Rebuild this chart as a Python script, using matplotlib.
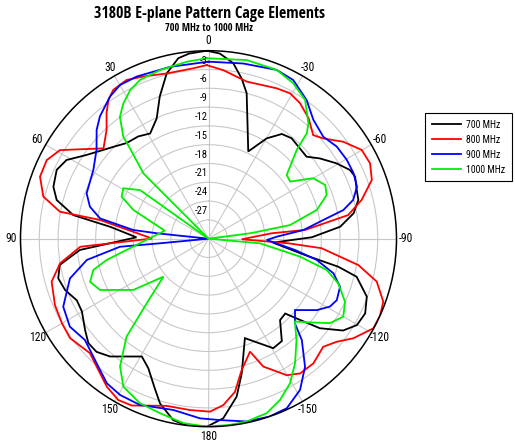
import os
import numpy as np
import matplotlib
matplotlib.use("Agg")
import matplotlib.pyplot as plt
from matplotlib.lines import Line2D
from matplotlib import font_manager as fm

title = "3180B E-plane Pattern Cage Elements"
subtitle = "700 MHz to 1000 MHz"
series_names = ["700 MHz", "800 MHz", "900 MHz", "1000 MHz"]
series_colors = ["#000000", "#ff0000", "#0000ff", "#00ee00"]
theta_tick_deg = [0, 30, 60, 90, 120, 150, 180, 210, 240, 270, 300, 330]
theta_tick_labels = ["0", "30", "60", "90", "120", "150", "180", "-150", "-120", "-90", "-60", "-30"]
r_ticks = [-27, -24, -21, -18, -15, -12, -9, -6, -3]

theta_700 = [0.5, 6, 9.5, 14.2, 18.9, 23.3, 29.0, 34.5, 40.6, 46.0, 55.5, 61.0, 65.6, 71.5, 75.7,
             80.1, 83.1, 88.9, 95.0, 100.0, 104.8, 109.7, 115.1, 119.9, 126.5, 131.0, 135.3, 140.1,
             150.5, 155.1, 160.3, 163.6, 169.0, 173.4, 179.5, -175.3, -169.9, -166.1, -159.9, -149.4,
             -144.4, -138.7, -134.3, -131.6, -128.8, -124.3, -120.2, -115.5, -110.1, -104.4, -102.2,
             -99.6, -93.5, -89.2, -84.8, -80.1, -75.5, -71.8, -67.1, -64.1, -59.5, -54.2, -50.1,
             -45.3, -39.6, -35.0, -30.1, -24.5, -14.7, -11.7, -8.0, -3.5, 0.5]
r_700 = [0, -0.3, -0.8, -2.8, -6.0, -9.1, -10.8, -10.2, -9.9, -8.9, -6.4, -4.1, -3.4, -3.9, -5.0,
         -8.1, -14.2, -18.5, -9.4, -5.9, -5.2, -5.7, -6.8, -6.7, -5.5, -4.6, -4.6, -5.5,
         -8.4, -7.2, -4.6, -2.6, -0.5, 0, 0, -1.25, -4.4, -7.9, -13.1, -9.7,
         -9.9, -12.7, -12.9, -10.5, -7.2, -4.0, -2.6, -2.3, -3.1, -5.6, -8.8,
         -14.4, -19.7, -13.5, -8.9, -6.5, -5.3, -5.1, -4.6, -4.9, -6.3, -8.1, -9.6,
         -9.5, -9.2, -9.6, -11.5, -14.7, -6.0, -3.9, -1.7, -0.4, 0]

theta_800 = [0.6, 5.1, 14.2, 21.9, 27.3, 32.6, 35.8, 39.1, 43.1, 49.3, 55.2, 59.2, 64.1, 69.8, 75.7,
             79.7, 80.2, 89.8, 93.6, 99.4, 105.3, 113.4, 120.0, 125.7, 134.0, 140.0, 145.5, 150.8,
             155.3, 165.9, 173.8, -179.5, -174.9, -170.2, -165.8, -159.8, -156.8, -150.2, -145.8,
             -139.9, -133.3, -128.8, -124.5, -118.5, -114.2, -109.8, -104.3, -100.0, -94.8, -93.3,
             -91.0, -85.1, -84.8, -80.4, -75.8, -70.2, -65.0, -59.9, -54.3, -48.8, -45.3, -39.7,
             -34.0, -29.3, -24.4, -13.7, -5.0, 0.6]
r_800 = [-2.3, -2.7, -2.8, -2.1, -1.5, -1.8, -2.7, -4.2, -6.2, -7.9, -5.0, -2.4, -1.3, -1.35, -2.8,
         -5.9, -12.4, -21.0, -9.5, -6.0, -4.05, -3.3, -3.0, -2.8, -3.7, -2.65, -1.35, -0.5,
         -0.7, -2.5, -2.5, -2.4, -3.35, -5.2, -8.4, -10.8, -7.8, -4.9, -4.0,
         -4.0, -4.85, -3.75, -1.95, -0.05, 0, -0.35, -2.3, -5.7, -11.9, -17.25,
         -24.7, -19.9, -14.5, -7.4, -4.8, -2.3, -1.55, -1.75, -3.5, -5.7, -6.5, -5.0,
         -3.9, -3.4, -3.65, -4.2, -3.0, -2.3]

theta_900 = [0, 12.6, 23.9, 29.9, 34.7, 41.6, 45.8, 51.6, 59.2, 69.6, 74.9, 79.4, 83.4, 84.0, 90,
             95.4, 95.2, 99.9, 106.0, 115.1, 122.4, 129.4, 139.3, 144.9, 150.5, 157.6, 168.4, 177.3,
             -176.4, -168.2, -161.1, -155.2, -148.8, -143.0, -137.4, -134.4, -129.5, -123.4, -119.2,
             -115.6, -110.1, -105.5, -101.1, -97.4, -91.3, -88.3, -84.8, -80.7, -78.0, -75.0, -70.7,
             -65.7, -60.3, -54.3, -48.4, -41.4, -35.3, -28.1, -22.0, -11.2, 0]
r_900 = [-1.75, -1.9, -1.7, -1.7, -2.4, -3.9, -5.1, -7.2, -8.6, -9.25, -10.4, -12.4, -17.9, -21.7, -30,
         -22.2, -15.8, -10.3, -7.0, -4.4, -3.8, -4.5, -3.05, -1.8, -1.35, -1.3, -2.1, -1.3,
         -1.0, -0.2, 0, -0.2, -1.8, -4.4, -8.0, -10.7, -12.1, -9.3, -7.8,
         -7.3, -7.65, -9.3, -12.4, -16.1, -20.7, -19.1, -14.8, -11.4, -8.0, -6.1, -4.9,
         -4.6, -4.6, -4.8, -5.5, -4.7, -2.9, -1.3, -0.95, -1.5, -1.75]

theta_1000 = [0.6, 7.0, 16.0, 23.3, 27.8, 32.2, 36.0, 39.9, 41.0, 44.9, 60, 54.6, 59.4, 64.2, 69.1,
              79.6, 101.8, 105.2, 110.0, 115.3, 124.3, 130.1, 136.3, 140.1, 145.3, 150.1, 157.4,
              164.5, 172.2, 179.5, -173.4, -168.2, -161.6, -156.1, -150.6, -145.2, -139.0, -133.8,
              -128.7, -124.8, -120.1, -114.8, -109.0, -104.8, -101.1, -95.1, -90, -82.6, -80.5,
              -75.1, -69.7, -65.3, -60.0, -55.0, -50.8, -44.8, -43.0, -40.9, -34.8, -28.6, -22.0,
              -12.1, 0.6]
r_1000 = [-1.2, -1.55, -2.0, -2.4, -3.2, -4.5, -5.95, -8.8, -10.9, -15.3, -30, -16.6, -14.2, -14.6, -17.2,
          -22.9, -13.4, -10.95, -9.9, -10.85, -15.5, -20.6, -15.7, -9.6, -5.2, -2.75, -1.55,
          -1.1, -0.3, 0, -0.1, -0.2, -0.65, -1.85, -3.5, -5.8, -8.6, -10.9,
          -8.6, -6.4, -5.15, -6.0, -8.1, -10.5, -15.1, -21.75, -30, -23.3, -16.8,
          -12.1, -9.9, -9.5, -10.7, -14.1, -13.9, -10.0, -7.0, -5.65, -3.0, -1.75, -0.95,
          -0.85, -1.2]

series = [(theta_700, r_700), (theta_800, r_800), (theta_900, r_900), (theta_1000, r_1000)]


# ---- pick a narrow / condensed sans font (Arial-Narrow-like) if one is installed ----
WIDTH_WORDS = [("extracondensed", 3), ("ultracondensed", 4), ("extra-condensed", 3),
               ("semicondensed", 1), ("semi-condensed", 1), ("condensed", 0), ("narrow", 0), ("cond", 0)]
WEIGHT_WORDS = ["thin", "extralight", "light", "medium", "semibold", "demibold", "extrabold",
                "black", "heavy", "bold", "italic", "oblique"]


def _classify(path):
    b = os.path.splitext(os.path.basename(path))[0].lower().replace(" ", "").replace("_", "")
    wrank = None
    rest = b
    for w, rk in WIDTH_WORDS:
        if w in rest:
            wrank = rk
            rest = rest.replace(w, "")
            break
    if wrank is None:
        return None
    weights = [w for w in WEIGHT_WORDS if w in rest]
    if "semibold" in weights or "extrabold" in weights or "demibold" in weights:
        weights = [w for w in weights if w != "bold"]
    return wrank, weights


prefs = ["liberation sans narrow", "arial narrow", "liberation sans", "noto sans", "open sans",
         "roboto", "dejavu sans", "lato", "inter"]


def _pick(want_bold):
    best = None
    for f in fm.fontManager.ttflist:
        nm = f.name.lower()
        if any(s in nm for s in ("mono", "cjk", "math")) or ("serif" in nm and "sans" not in nm):
            continue
        c = _classify(f.fname)
        if c is None:
            continue
        wrank, weights = c
        if any(w in weights for w in ("italic", "oblique")):
            continue
        if want_bold:
            if weights != ["bold"]:
                continue
        else:
            if weights not in ([], ["regular"]):
                continue
        pr = next((i for i, p in enumerate(prefs) if nm.startswith(p)), len(prefs))
        key = (wrank, pr)
        if best is None or key < best[0]:
            best = (key, f)
    return None if best is None else best[1]


f_reg = _pick(False)
f_bold = _pick(True)
fp_reg = fm.FontProperties(fname=f_reg.fname) if f_reg else fm.FontProperties(family="Liberation Sans")
fp_bold = fm.FontProperties(fname=f_bold.fname) if f_bold else fm.FontProperties(family="Liberation Sans", weight="bold")

W, H = 515, 446
fig = plt.figure(figsize=(W / 100, H / 100), dpi=100)
renderer = fig.canvas.get_renderer()


def fit_size(text, fp, target_px, max_size):
    t = fig.text(0, 0, text, fontproperties=fp, fontsize=10)
    w = t.get_window_extent(renderer).width
    t.remove()
    return min(max_size, 10 * target_px / w)


size_title = fit_size(title, fp_bold, 232, 11.5)
size_sub = fit_size(subtitle, fp_bold, 88, 7.5)
size_theta = fit_size("-150", fp_reg, 20, 9.0)
size_r = fit_size("-27", fp_reg, 13, 8.4)
size_leg = fit_size("1000 MHz", fp_reg, 39, 8.0)

cx, cy, R = 208.5, 238.7, 188.0
ax = fig.add_axes([(cx - R) / W, (H - cy - R) / H, 2 * R / W, 2 * R / H], projection='polar')
ax.set_theta_zero_location('N')
ax.set_theta_direction(1)

for (th, rr), col in zip(series, series_colors):
    ax.plot(np.deg2rad(th), rr, color=col, lw=1.3, solid_joinstyle='miter')

ax.set_rlim(-30, 0)
ax.set_yticks(r_ticks)
ax.set_yticklabels([])
ax.set_xticks(np.deg2rad(theta_tick_deg))
ax.set_xticklabels(theta_tick_labels)
for lab in ax.get_xticklabels():
    lab.set_fontproperties(fp_reg)
    lab.set_fontsize(size_theta)
ax.tick_params(axis='x', pad=-3.5)
ax.grid(True, color='#c8c8c8', lw=0.8)
ax.spines['polar'].set_color('black')
ax.spines['polar'].set_linewidth(1.1)

for v in r_ticks:
    ax.annotate(str(v), xy=(0, v), xytext=(-0.8, 2.8), textcoords='offset points',
                ha='right', va='bottom', fontproperties=fp_reg, fontsize=size_r)

fig.text(209 / W, 1 - 13.5 / H, title, ha='center', va='center', fontproperties=fp_bold, fontsize=size_title)
fig.text(209 / W, 1 - 28.5 / H, subtitle, ha='center', va='center', fontproperties=fp_bold, fontsize=size_sub)

handles = [Line2D([], [], color=c, lw=1.3) for c in series_colors]
leg_fp = fp_reg.copy()
leg_fp.set_size(size_leg)
leg = fig.legend(handles, series_names, loc='upper left', bbox_to_anchor=(425 / W, 1 - 113 / H),
                 borderaxespad=0, frameon=True, fancybox=False, edgecolor='black', framealpha=1,
                 prop=leg_fp, handlelength=3.0, handletextpad=0.5, labelspacing=0.5, borderpad=0.7)
leg.get_frame().set_linewidth(0.8)

fig.savefig("out.png", dpi=100)
